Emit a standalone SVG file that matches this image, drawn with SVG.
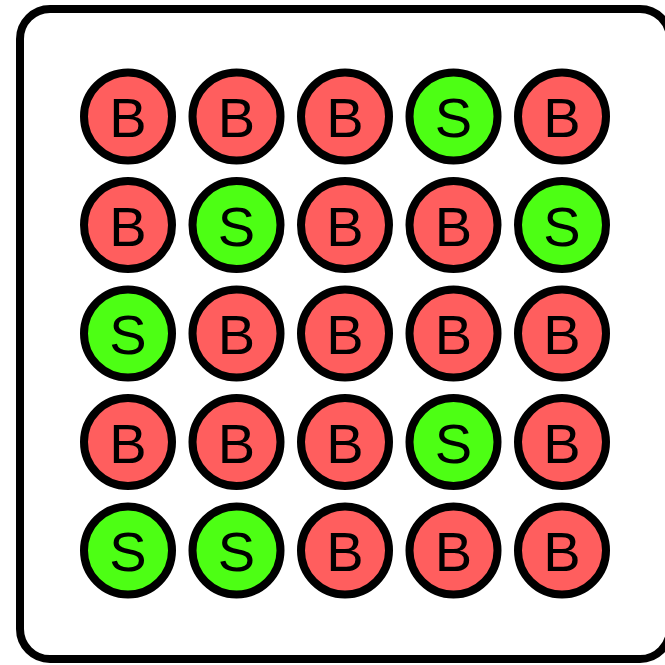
<svg xmlns="http://www.w3.org/2000/svg" width="665" height="665" viewBox="0 0 665 665">
<style>
.frame{fill:#ffffff;stroke:#000000;stroke-width:8}
.b circle{fill:#ff5e5e;stroke:#000;stroke-width:8}
.s circle{fill:#4dff14;stroke:#000;stroke-width:8}
text{font-family:"Liberation Sans",Arial,sans-serif;font-size:56px;fill:#000;text-anchor:middle}
</style>
<rect width="665" height="665" fill="#ffffff"/>
<rect class="frame" x="20" y="9" width="650" height="650" rx="30" ry="30"/>
<g id="connectors"/>
<g id="n11" class="b"><circle cx="128" cy="116.5" r="44"/><text x="128" y="137">B</text></g>
<g id="n12" class="b"><circle cx="236.5" cy="116.5" r="44"/><text x="236.5" y="137">B</text></g>
<g id="n13" class="b"><circle cx="345" cy="116.5" r="44"/><text x="345" y="137">B</text></g>
<g id="n14" class="s"><circle cx="453.5" cy="116.5" r="44"/><text x="453.5" y="137">S</text></g>
<g id="n15" class="b"><circle cx="562" cy="116.5" r="44"/><text x="562" y="137">B</text></g>
<g id="n21" class="b"><circle cx="128" cy="225" r="44"/><text x="128" y="245.5">B</text></g>
<g id="n22" class="s"><circle cx="236.5" cy="225" r="44"/><text x="236.5" y="245.5">S</text></g>
<g id="n23" class="b"><circle cx="345" cy="225" r="44"/><text x="345" y="245.5">B</text></g>
<g id="n24" class="b"><circle cx="453.5" cy="225" r="44"/><text x="453.5" y="245.5">B</text></g>
<g id="n25" class="s"><circle cx="562" cy="225" r="44"/><text x="562" y="245.5">S</text></g>
<g id="n31" class="s"><circle cx="128" cy="333.5" r="44"/><text x="128" y="354">S</text></g>
<g id="n32" class="b"><circle cx="236.5" cy="333.5" r="44"/><text x="236.5" y="354">B</text></g>
<g id="n33" class="b"><circle cx="345" cy="333.5" r="44"/><text x="345" y="354">B</text></g>
<g id="n34" class="b"><circle cx="453.5" cy="333.5" r="44"/><text x="453.5" y="354">B</text></g>
<g id="n35" class="b"><circle cx="562" cy="333.5" r="44"/><text x="562" y="354">B</text></g>
<g id="n41" class="b"><circle cx="128" cy="442" r="44"/><text x="128" y="462.5">B</text></g>
<g id="n42" class="b"><circle cx="236.5" cy="442" r="44"/><text x="236.5" y="462.5">B</text></g>
<g id="n43" class="b"><circle cx="345" cy="442" r="44"/><text x="345" y="462.5">B</text></g>
<g id="n44" class="s"><circle cx="453.5" cy="442" r="44"/><text x="453.5" y="462.5">S</text></g>
<g id="n45" class="b"><circle cx="562" cy="442" r="44"/><text x="562" y="462.5">B</text></g>
<g id="n51" class="s"><circle cx="128" cy="550.5" r="44"/><text x="128" y="571">S</text></g>
<g id="n52" class="s"><circle cx="236.5" cy="550.5" r="44"/><text x="236.5" y="571">S</text></g>
<g id="n53" class="b"><circle cx="345" cy="550.5" r="44"/><text x="345" y="571">B</text></g>
<g id="n54" class="b"><circle cx="453.5" cy="550.5" r="44"/><text x="453.5" y="571">B</text></g>
<g id="n55" class="b"><circle cx="562" cy="550.5" r="44"/><text x="562" y="571">B</text></g>
</svg>
